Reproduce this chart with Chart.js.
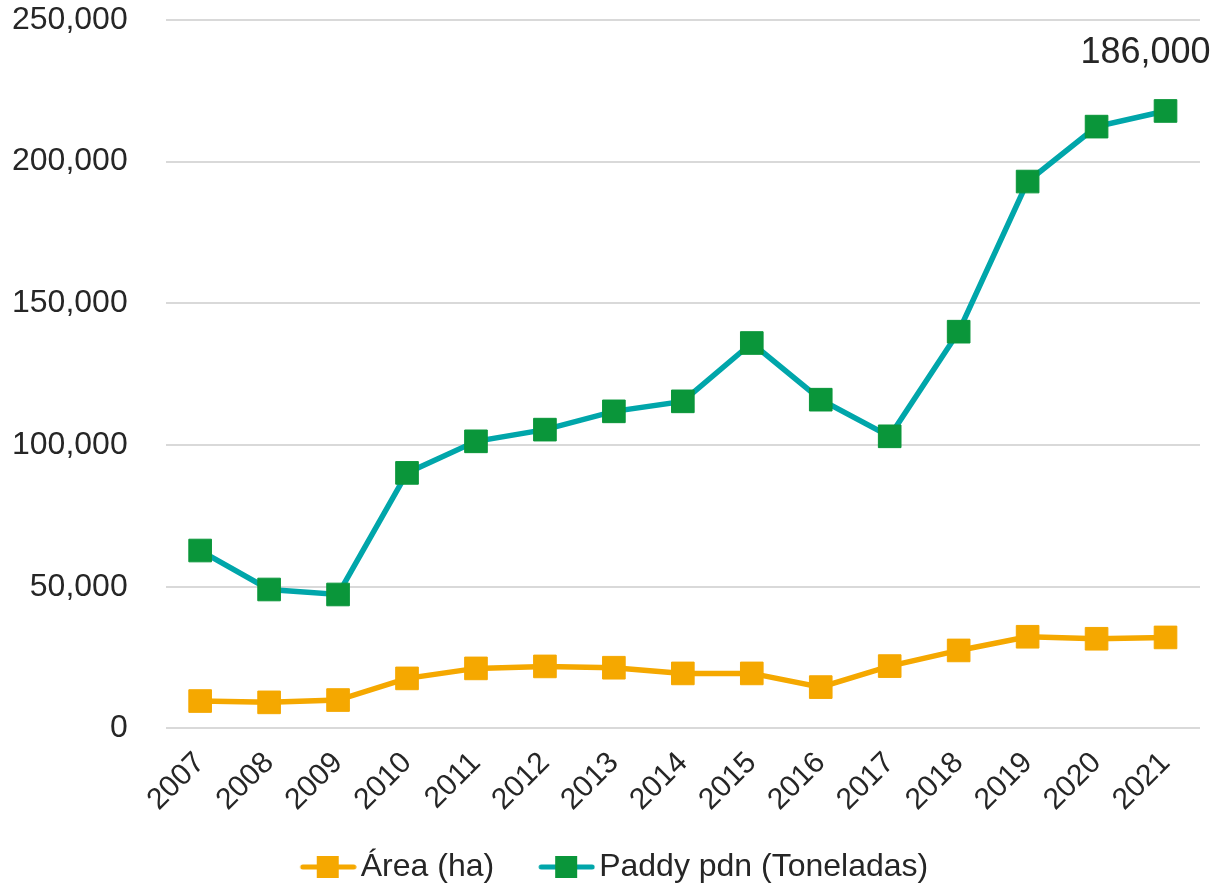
<!DOCTYPE html>
<html>
<head>
<meta charset="utf-8">
<script src="https://cdn.jsdelivr.net/npm/chart.js@4"></script>
<style>
  html, body { margin: 0; padding: 0; background: #fff; overflow: hidden; }
  #wrap { width: 1217px; height: 884px; }
</style>
</head>
<body>
<div id="wrap"><canvas id="riceChart"></canvas></div>
<script>
// values
const years = ['2007', '2008', '2009', '2010', '2011', '2012', '2013', '2014', '2015', '2016', '2017', '2018', '2019', '2020', '2021'];
const areaHa = [9640, 9170, 9990, 17630, 21160, 21860, 21400, 19390, 19390, 14560, 21970, 27500, 32330, 31620, 32090];
const paddyTons = [62760, 49010, 47250, 90160, 101300, 105430, 111880, 115410, 136000, 116000, 103070, 140000, 192980, 212370, 217900];
const yTicks = [0, 50000, 100000, 150000, 200000, 250000];
const seriesNames = ['Área (ha)', 'Paddy pdn (Toneladas)'];
const calloutText = '186,000';

const ORANGE = '#f5a800';
const TEAL = '#00a6aa';
const GREEN = '#0a963a';
const TEXT = '#262626';
const FONT = '"Liberation Sans", Arial, sans-serif';

// legend symbol: a short line with a square on it (drawn at the right of a wider canvas)
function legendIcon(lineColor, boxColor) {
    const w = 97;
    const c = document.createElement('canvas');
    c.width = w;
    c.height = 24;
    const g = c.getContext('2d');
    g.strokeStyle = lineColor;
    g.lineWidth = 5;
    g.lineCap = 'round';
    g.beginPath();
    g.moveTo(w - 54, 12);
    g.lineTo(w - 3, 12);
    g.stroke();
    g.fillStyle = boxColor;
    g.fillRect(w - 29 - 11, 1, 22, 22);
    return c;
}

// text over the last paddy point
const calloutPlugin = {
    id: 'callout',
    afterLayout(chart) {
        // nudge the legend row a little to the left
        chart.legend.left -= 6;
        chart.legend.right -= 6;
    },
    afterDatasetsDraw(chart) {
        const meta = chart.getDatasetMeta(1);
        const pt = meta.data[meta.data.length - 1];
        const ctx = chart.ctx;
        ctx.save();
        ctx.font = '36px ' + FONT;
        ctx.fillStyle = TEXT;
        ctx.textAlign = 'center';
        ctx.textBaseline = 'alphabetic';
        ctx.fillText(calloutText, pt.x - 20, pt.y - 48);
        ctx.restore();
    }
};

function drawChart() {
    const icons = [legendIcon(ORANGE, ORANGE), legendIcon(TEAL, GREEN)];
    const ctx = document.getElementById('riceChart').getContext('2d');
    new Chart(ctx, {
        type: 'line',
        data: {
            labels: years,
            datasets: [{
                label: seriesNames[0],
                data: areaHa,
                borderColor: ORANGE,
                backgroundColor: ORANGE,
                borderWidth: 5.5,
                pointStyle: 'rect',
                pointRadius: 16,
                pointBackgroundColor: ORANGE,
                pointBorderColor: ORANGE,
                pointBorderWidth: 1,
                tension: 0
            }, {
                label: seriesNames[1],
                data: paddyTons,
                borderColor: TEAL,
                backgroundColor: GREEN,
                borderWidth: 5.5,
                pointStyle: 'rect',
                pointRadius: 16,
                pointBackgroundColor: GREEN,
                pointBorderColor: GREEN,
                pointBorderWidth: 1,
                tension: 0
            }]
        },
        options: {
            responsive: true,
            maintainAspectRatio: false,
            animation: false,
            layout: { padding: { left: 12, right: 17, top: 20, bottom: -9 } },
            scales: {
                x: {
                    offset: true,
                    grid: { display: false, drawTicks: false },
                    border: { display: false },
                    ticks: {
                        color: TEXT,
                        font: { family: FONT, size: 30 },
                        minRotation: 45,
                        maxRotation: 45,
                        padding: 17,
                        autoSkip: false
                    }
                },
                y: {
                    min: yTicks[0],
                    max: yTicks[yTicks.length - 1],
                    afterBuildTicks: axis => { axis.ticks = yTicks.map(v => ({ value: v })); },
                    // transparent tick marks give the gap between labels and plot
                    grid: { color: '#d9d9d9', lineWidth: 2, drawTicks: true, tickLength: 38, tickColor: 'rgba(0,0,0,0)' },
                    border: { display: false },
                    ticks: {
                        color: TEXT,
                        font: { family: FONT, size: 32 },
                        padding: 0,
                        callback: v => v.toLocaleString('en-US')
                    }
                }
            },
            plugins: {
                legend: {
                    position: 'bottom',
                    labels: {
                        usePointStyle: true,
                        pointStyleWidth: 73,
                        padding: 16,
                        color: TEXT,
                        font: { family: FONT, size: 32, lineHeight: 1 },
                        generateLabels: chart => {
                            const items = Chart.defaults.plugins.legend.labels.generateLabels(chart);
                            items.forEach((it, i) => { it.pointStyle = icons[i]; });
                            return items;
                        }
                    }
                },
                tooltip: { enabled: false }
            }
        },
        plugins: [calloutPlugin]
    });
}

// make sure the font is ready before Chart.js measures the labels
if (document.fonts && document.fonts.load) {
    Promise.all([
        document.fonts.load('32px "Liberation Sans"'),
        document.fonts.load('36px "Liberation Sans"')
    ]).then(drawChart, drawChart);
} else {
    drawChart();
}
</script>
</body>
</html>
